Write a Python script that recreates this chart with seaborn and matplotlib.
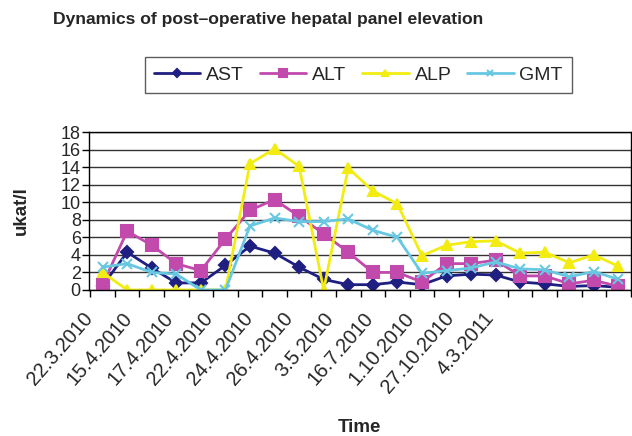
import numpy as np
import pandas as pd
import seaborn as sns
import matplotlib.pyplot as plt

dates = ['22.3.2010', '15.4.2010', '17.4.2010', '22.4.2010', '24.4.2010', '26.4.2010',
         '3.5.2010', '16.7.2010', '1.10.2010', '27.10.2010', '4.3.2011']

ast = [0.5, 4.3, 2.5, 0.8, 0.8, 2.8, 5.0, 4.2, 2.6, 1.2, 0.6,
       0.6, 0.9, 0.6, 1.6, 1.8, 1.7, 0.9, 0.7, 0.4, 0.5, 0.3]
alt = [0.6, 6.7, 5.1, 3.0, 2.2, 5.8, 9.1, 10.3, 8.4, 6.4, 4.3,
       2.0, 2.0, 0.9, 3.0, 3.0, 3.4, 1.6, 1.6, 0.7, 1.1, 0.4]
alp = [2.0, 0.0, 0.0, 0.0, 0.0, 0.0, 14.4, 16.1, 14.1, 0.0, 13.9,
       11.3, 9.8, 3.9, 5.1, 5.5, 5.6, 4.2, 4.3, 3.1, 4.0, 2.7]
gmt = [2.6, 3.0, 2.0, 1.8, 0.0, 0.0, 7.3, 8.2, 7.8, 7.8, 8.1,
       6.8, 6.0, 1.9, 2.2, 2.5, 3.2, 2.4, 2.3, 1.5, 2.1, 1.2]

series = {'AST': ast, 'ALT': alt, 'ALP': alp, 'GMT': gmt}
colors = {'AST': '#1f1f82', 'ALT': '#c24aac', 'ALP': '#f2ec12', 'GMT': '#68c8e2'}
markers = {'AST': 'D', 'ALT': 's', 'ALP': '^', 'GMT': 'x'}
msizes = {'AST': 6, 'ALT': 8, 'ALP': 7, 'GMT': 7}

sns.set_style('white')
plt.rcParams['font.family'] = ['Liberation Sans', 'DejaVu Sans']

fig = plt.figure(figsize=(6.32, 4.36), dpi=100)
ax = fig.add_axes([0.141, 0.335, 0.857, 0.362])

n = len(ast)
idx = np.arange(n)
for name, vals in series.items():
    sns.lineplot(x=idx, y=vals, ax=ax, color=colors[name], marker=markers[name],
                 markersize=msizes[name], markeredgecolor=colors[name],
                 markeredgewidth=1.5, linewidth=2, label=name)

ax.set_xlim(-0.5, n - 0.5)
ax.set_ylim(0, 18)
ax.set_yticks(np.arange(0, 19, 2))
ax.yaxis.grid(True, color='#333333', linewidth=1)
ax.set_axisbelow(True)
for s in ax.spines.values():
    s.set_color('black')
    s.set_linewidth(1)

# category boundaries get the tick marks, labels sit where Excel squeezed them
ax.set_xticks(np.arange(-0.5, n, 1), minor=True)
ax.set_xticks(np.linspace(-0.55, 15.8, len(dates)))
ax.set_xticklabels(dates, rotation=49, ha='right', va='center', rotation_mode='anchor',
                   fontsize=14.5)
ax.tick_params(axis='x', which='major', length=0, pad=18)
ax.tick_params(axis='x', which='minor', length=5, width=1, color='black', direction='out', bottom=True)
ax.tick_params(axis='y', length=5, width=1, color='black', direction='out', left=True,
               labelsize=13, pad=1)

ax.set_ylabel('ukat/l', fontsize=13.5, fontweight='bold', labelpad=22)
ax.set_xlabel('Time', fontsize=13.5, fontweight='bold', labelpad=16)

leg = ax.legend(loc='center', bbox_to_anchor=(0.567, 0.828), bbox_transform=fig.transFigure,
                ncol=4, frameon=True, fancybox=False, fontsize=14, markerscale=0.7,
                handlelength=2.4, handletextpad=0.3, columnspacing=0.8, borderpad=0.45,
                borderaxespad=0)
leg.get_frame().set_edgecolor('#333333')
leg.get_frame().set_linewidth(1)

fig.text(0.084, 0.955, 'Dynamics of post\u2013operative hepatal panel elevation',
         fontsize=12.6, fontweight='bold', ha='left', va='center')

fig.savefig('out.png', dpi=100)
